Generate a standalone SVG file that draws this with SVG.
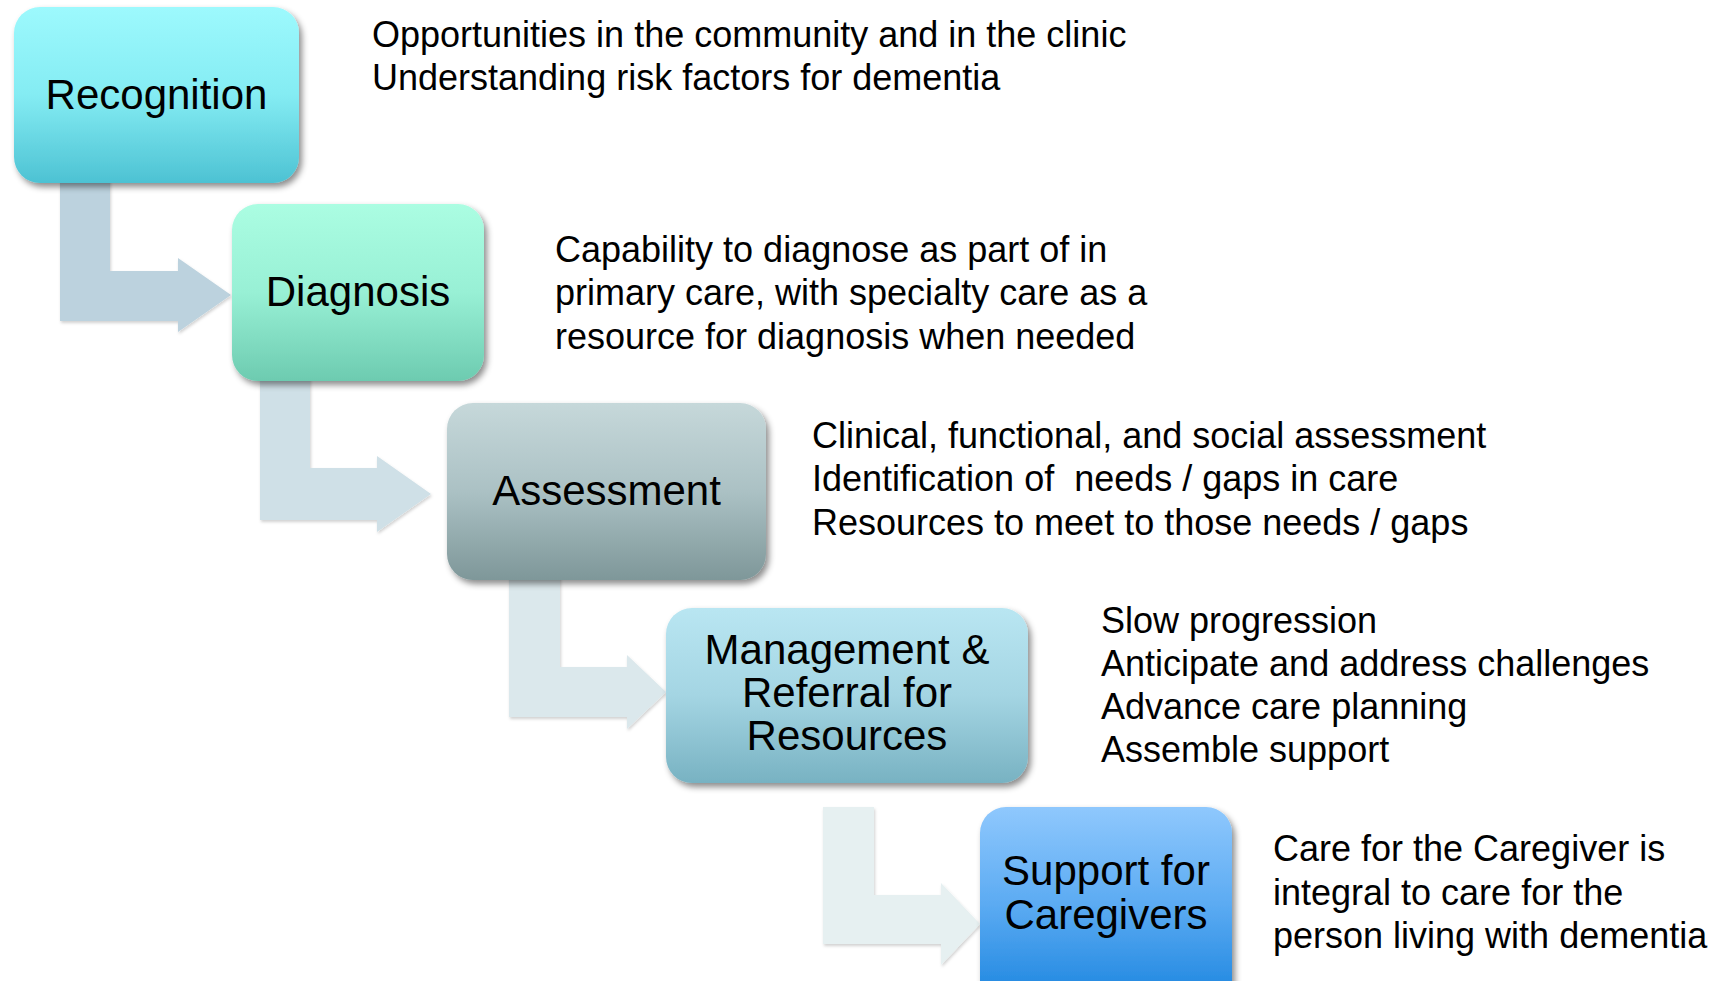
<svg xmlns="http://www.w3.org/2000/svg" width="1716" height="981" viewBox="0 0 1716 981">
  <style>
    .label { font-family: "Liberation Sans", Arial, sans-serif; font-size: 42px; fill: #000; text-anchor: middle; }
    .note { font-family: "Liberation Sans", Arial, sans-serif; font-size: 36px; fill: #000; }
  </style>
  <defs>
    <filter id="boxShadow" x="-10%" y="-10%" width="125%" height="130%">
      <feDropShadow dx="3" dy="4" stdDeviation="3" flood-color="#000" flood-opacity="0.45"/>
    </filter>
    <filter id="arrowShadow" x="-10%" y="-10%" width="125%" height="130%">
      <feDropShadow dx="1" dy="2" stdDeviation="1.5" flood-color="#000" flood-opacity="0.18"/>
    </filter>
    <linearGradient id="gRecognition" x1="0" y1="0" x2="0" y2="1">
      <stop offset="0" stop-color="#9df9fd"/>
      <stop offset="0.5" stop-color="#84ecf3"/>
      <stop offset="1" stop-color="#4dc2d3"/>
    </linearGradient>
    <linearGradient id="gDiagnosis" x1="0" y1="0" x2="0" y2="1">
      <stop offset="0" stop-color="#abfde2"/>
      <stop offset="0.5" stop-color="#98f0d5"/>
      <stop offset="1" stop-color="#6dcbb0"/>
    </linearGradient>
    <linearGradient id="gAssessment" x1="0" y1="0" x2="0" y2="1">
      <stop offset="0" stop-color="#c6d8da"/>
      <stop offset="0.5" stop-color="#abc1c4"/>
      <stop offset="1" stop-color="#7e9799"/>
    </linearGradient>
    <linearGradient id="gManagement" x1="0" y1="0" x2="0" y2="1">
      <stop offset="0" stop-color="#b9e6f2"/>
      <stop offset="0.5" stop-color="#a4d5e3"/>
      <stop offset="1" stop-color="#78b2c2"/>
    </linearGradient>
    <linearGradient id="gSupport" x1="0" y1="0" x2="0" y2="1">
      <stop offset="0" stop-color="#8fc8fd"/>
      <stop offset="0.5" stop-color="#5aaaf2"/>
      <stop offset="1" stop-color="#1883de"/>
    </linearGradient>
  </defs>

  <rect width="1716" height="981" fill="#ffffff"/>

  <!-- bent arrows linking the steps -->
  <g id="connectors" filter="url(#arrowShadow)">
    <path d="M60,178 H110 V271 H178 V258 L231,295 L178,332 V321 H60 Z" fill="#bcd2de"/>
    <path d="M260,376 H310 V468 H377 V456 L431,494 L377,532 V520 H260 Z" fill="#cfe0e7"/>
    <path d="M509,575 H560 V667 H627 V655 L666,692 L627,729 V717 H509 Z" fill="#dbe8ec"/>
    <path d="M823,807 H874 V895 H941 V883 L980,924 L941,965 V944 H823 Z" fill="#e6f0f1"/>
  </g>

  <g id="recognition">
    <rect x="14" y="7" width="285" height="176" rx="26" fill="url(#gRecognition)" filter="url(#boxShadow)"/>
    <text class="label" x="156.5" y="109">Recognition</text>
  </g>

  <g id="diagnosis">
    <rect x="232" y="204" width="252" height="177" rx="26" fill="url(#gDiagnosis)" filter="url(#boxShadow)"/>
    <text class="label" x="358" y="306">Diagnosis</text>
  </g>

  <g id="assessment">
    <rect x="447" y="403" width="319" height="177" rx="26" fill="url(#gAssessment)" filter="url(#boxShadow)"/>
    <text class="label" x="606.5" y="505">Assessment</text>
  </g>

  <g id="management">
    <rect x="666" y="608" width="362" height="175" rx="26" fill="url(#gManagement)" filter="url(#boxShadow)"/>
    <text class="label" x="847" y="664">Management &amp;</text>
    <text class="label" x="847" y="707">Referral for</text>
    <text class="label" x="847" y="750">Resources</text>
  </g>

  <g id="support">
    <rect x="980" y="807" width="252" height="200" rx="26" fill="url(#gSupport)" filter="url(#boxShadow)"/>
    <text class="label" x="1106" y="885">Support for</text>
    <text class="label" x="1106" y="929">Caregivers</text>
  </g>

  <!-- descriptions beside each step -->
  <g id="notes">
    <text class="note" x="372" y="47">Opportunities in the community and in the clinic</text>
    <text class="note" x="372" y="90">Understanding risk factors for dementia</text>

    <text class="note" x="555" y="262">Capability to diagnose as part of in</text>
    <text class="note" x="555" y="305">primary care, with specialty care as a</text>
    <text class="note" x="555" y="349">resource for diagnosis when needed</text>

    <text class="note" x="812" y="448" xml:space="preserve">Clinical, functional, and social assessment</text>
    <text class="note" x="812" y="491" xml:space="preserve">Identification of  needs / gaps in care</text>
    <text class="note" x="812" y="535">Resources to meet to those needs / gaps</text>

    <text class="note" x="1101" y="633">Slow progression</text>
    <text class="note" x="1101" y="676">Anticipate and address challenges</text>
    <text class="note" x="1101" y="719">Advance care planning</text>
    <text class="note" x="1101" y="762">Assemble support</text>

    <text class="note" x="1273" y="861">Care for the Caregiver is</text>
    <text class="note" x="1273" y="905">integral to care for the</text>
    <text class="note" x="1273" y="948">person living with dementia</text>
  </g>
</svg>
